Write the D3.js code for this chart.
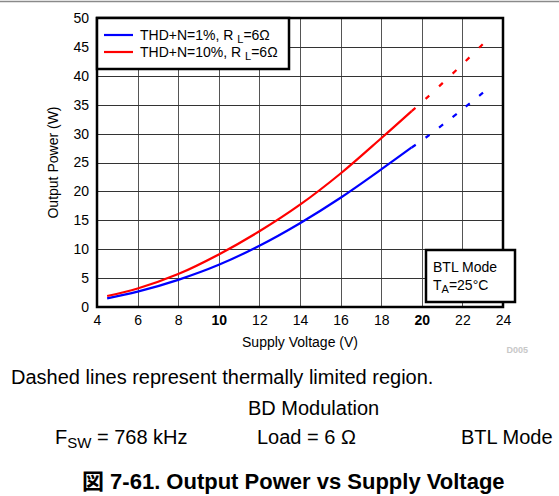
<!DOCTYPE html>
<html>
<head>
<meta charset="utf-8">
<script src="https://cdn.jsdelivr.net/npm/d3@7/dist/d3.min.js"></script>
<style>
  body { margin: 0; background: #fff; }
  svg { display: block; font-family: "Liberation Sans", Arial, "Noto Sans CJK JP", sans-serif; }
</style>
</head>
<body>
<div id="chart"></div>
<script>
// supply voltage (V), measured part of the curves
const voltage = [4.5, 6, 8, 10, 12, 14, 16, 18, 19.5];
const thd1 = [1.5, 2.65, 4.7, 7.3, 10.6, 14.5, 18.9, 23.8, 27.6];
const thd10 = [1.9, 3.2, 5.7, 9.1, 13.1, 17.7, 23.1, 29.2, 33.9];
// thermally limited region (dashed)
const voltageLim = [19.5, 20, 22, 23.3];
const thd1Lim = [27.6, 28.8, 34.2, 37.9];
const thd10Lim = [33.9, 35.4, 42.0, 46.5];

const xTicks = [4, 6, 8, 10, 12, 14, 16, 18, 20, 22, 24];
const yTicks = [0, 5, 10, 15, 20, 25, 30, 35, 40, 45, 50];

const chart_width = 559;
const chart_height = 496;
const plot_left = 97, plot_right = 503, plot_top = 18, plot_bottom = 307;

const svg = d3.select('#chart')
    .append('svg')
    .attr('width', chart_width)
    .attr('height', chart_height);

// page rule on top
svg.append('line')
    .attr('x1', 0).attr('x2', chart_width)
    .attr('y1', 1.5).attr('y2', 1.5)
    .attr('stroke', '#8a8a8a')
    .attr('stroke-width', 1.5);

const x_scale = d3.scaleLinear().domain([4, 24]).range([plot_left, plot_right]);
const y_scale = d3.scaleLinear().domain([0, 50]).range([plot_bottom, plot_top]);

// x axis with grid
const gx = svg.append('g')
    .attr('transform', `translate(0,${plot_bottom})`)
    .call(d3.axisBottom(x_scale)
        .tickValues(xTicks)
        .tickSize(-(plot_bottom - plot_top))
        .tickPadding(8)
        .tickFormat(d3.format('d')));
gx.select('.domain').remove();
gx.selectAll('line').attr('stroke', '#555').attr('shape-rendering', 'crispEdges');
gx.selectAll('text')
    .attr('font-size', 14)
    .attr('fill', '#000')
    .attr('font-weight', d => (d === 10 || d === 20) ? 'bold' : 'normal');

// y axis with grid
const gy = svg.append('g')
    .attr('transform', `translate(${plot_left},0)`)
    .call(d3.axisLeft(y_scale)
        .tickValues(yTicks)
        .tickSize(-(plot_right - plot_left))
        .tickPadding(8));
gy.select('.domain').remove();
gy.selectAll('line').attr('stroke', '#333').attr('shape-rendering', 'crispEdges');
gy.selectAll('text').attr('font-size', 14).attr('fill', '#000');

// frame
svg.append('rect')
    .attr('x', plot_left).attr('y', plot_top)
    .attr('width', plot_right - plot_left).attr('height', plot_bottom - plot_top)
    .attr('fill', 'none')
    .attr('stroke', '#000')
    .attr('stroke-width', 2.5);

// curves
const line = d3.line()
    .x(d => x_scale(d[0]))
    .y(d => y_scale(d[1]))
    .curve(d3.curveCatmullRom);

const curves = [
    { v: voltage, p: thd1, color: '#0000ff', dash: null },
    { v: voltage, p: thd10, color: '#ff0000', dash: null },
    { v: voltageLim, p: thd1Lim, color: '#0000ff', dash: '5,12' },
    { v: voltageLim, p: thd10Lim, color: '#ff0000', dash: '5,13.5' }
];

svg.selectAll('path.curve')
    .data(curves)
    .enter()
    .append('path')
    .attr('class', 'curve')
    .attr('d', c => line(c.v.map((v, i) => [v, c.p[i]])))
    .attr('fill', 'none')
    .attr('stroke', c => c.color)
    .attr('stroke-width', 2.2)
    .attr('stroke-dasharray', c => c.dash);

// legend
const legend = svg.append('g');
legend.append('rect')
    .attr('x', 97).attr('y', 18)
    .attr('width', 192).attr('height', 51)
    .attr('fill', '#fff')
    .attr('stroke', '#000')
    .attr('stroke-width', 2.5);

const legendItems = [
    { label: 'THD+N=1%, R ', color: '#0000ff' },
    { label: 'THD+N=10%, R ', color: '#ff0000' }
];
legendItems.forEach((it, i) => {
    const yy = 35 + i * 17;
    legend.append('line')
        .attr('x1', 104).attr('x2', 133)
        .attr('y1', yy).attr('y2', yy)
        .attr('stroke', it.color)
        .attr('stroke-width', 2.2);
    const t = legend.append('text')
        .attr('x', 140).attr('y', yy + 5)
        .attr('font-size', 14);
    t.append('tspan').text(it.label);
    t.append('tspan').attr('font-size', 11).attr('dy', 3).text('L');
    t.append('tspan').attr('dy', -3).text('=6Ω');
});

// condition box
const box = svg.append('g');
box.append('rect')
    .attr('x', 426).attr('y', 250)
    .attr('width', 89).attr('height', 52)
    .attr('fill', '#fff')
    .attr('stroke', '#000')
    .attr('stroke-width', 2.5);
box.append('text')
    .attr('x', 433).attr('y', 272)
    .attr('font-size', 14)
    .text('BTL Mode');
const ta = box.append('text')
    .attr('x', 433).attr('y', 290)
    .attr('font-size', 14);
ta.append('tspan').text('T');
ta.append('tspan').attr('font-size', 11).attr('dy', 3).text('A');
ta.append('tspan').attr('dy', -3).text('=25°C');

// axis titles
svg.append('text')
    .attr('x', (plot_left + plot_right) / 2)
    .attr('y', 347)
    .attr('text-anchor', 'middle')
    .attr('font-size', 14)
    .text('Supply Voltage (V)');

svg.append('text')
    .attr('transform', `translate(58,${(plot_top + plot_bottom) / 2}) rotate(-90)`)
    .attr('text-anchor', 'middle')
    .attr('font-size', 14)
    .text('Output Power (W)');

svg.append('text')
    .attr('x', 528).attr('y', 353)
    .attr('text-anchor', 'end')
    .attr('font-size', 9)
    .attr('font-weight', 'bold')
    .attr('fill', '#c8c8c8')
    .text('D005');

// notes below chart
svg.append('text')
    .attr('x', 11).attr('y', 384)
    .attr('font-size', 20)
    .text('Dashed lines represent thermally limited region.');

svg.append('text')
    .attr('x', 248).attr('y', 415)
    .attr('font-size', 20)
    .text('BD Modulation');

const fsw = svg.append('text')
    .attr('x', 55).attr('y', 444)
    .attr('font-size', 20);
fsw.append('tspan').text('F');
fsw.append('tspan').attr('font-size', 15).attr('dy', 4).text('SW');
fsw.append('tspan').attr('dy', -4).text(' = 768 kHz');

svg.append('text')
    .attr('x', 257).attr('y', 444)
    .attr('font-size', 20)
    .text('Load = 6 Ω');

svg.append('text')
    .attr('x', 461).attr('y', 444)
    .attr('font-size', 20)
    .text('BTL Mode');

svg.append('text')
    .attr('x', 82).attr('y', 489)
    .attr('font-size', 22)
    .attr('font-weight', 'bold')
    .text('図 7-61. Output Power vs Supply Voltage');
</script>
</body>
</html>
